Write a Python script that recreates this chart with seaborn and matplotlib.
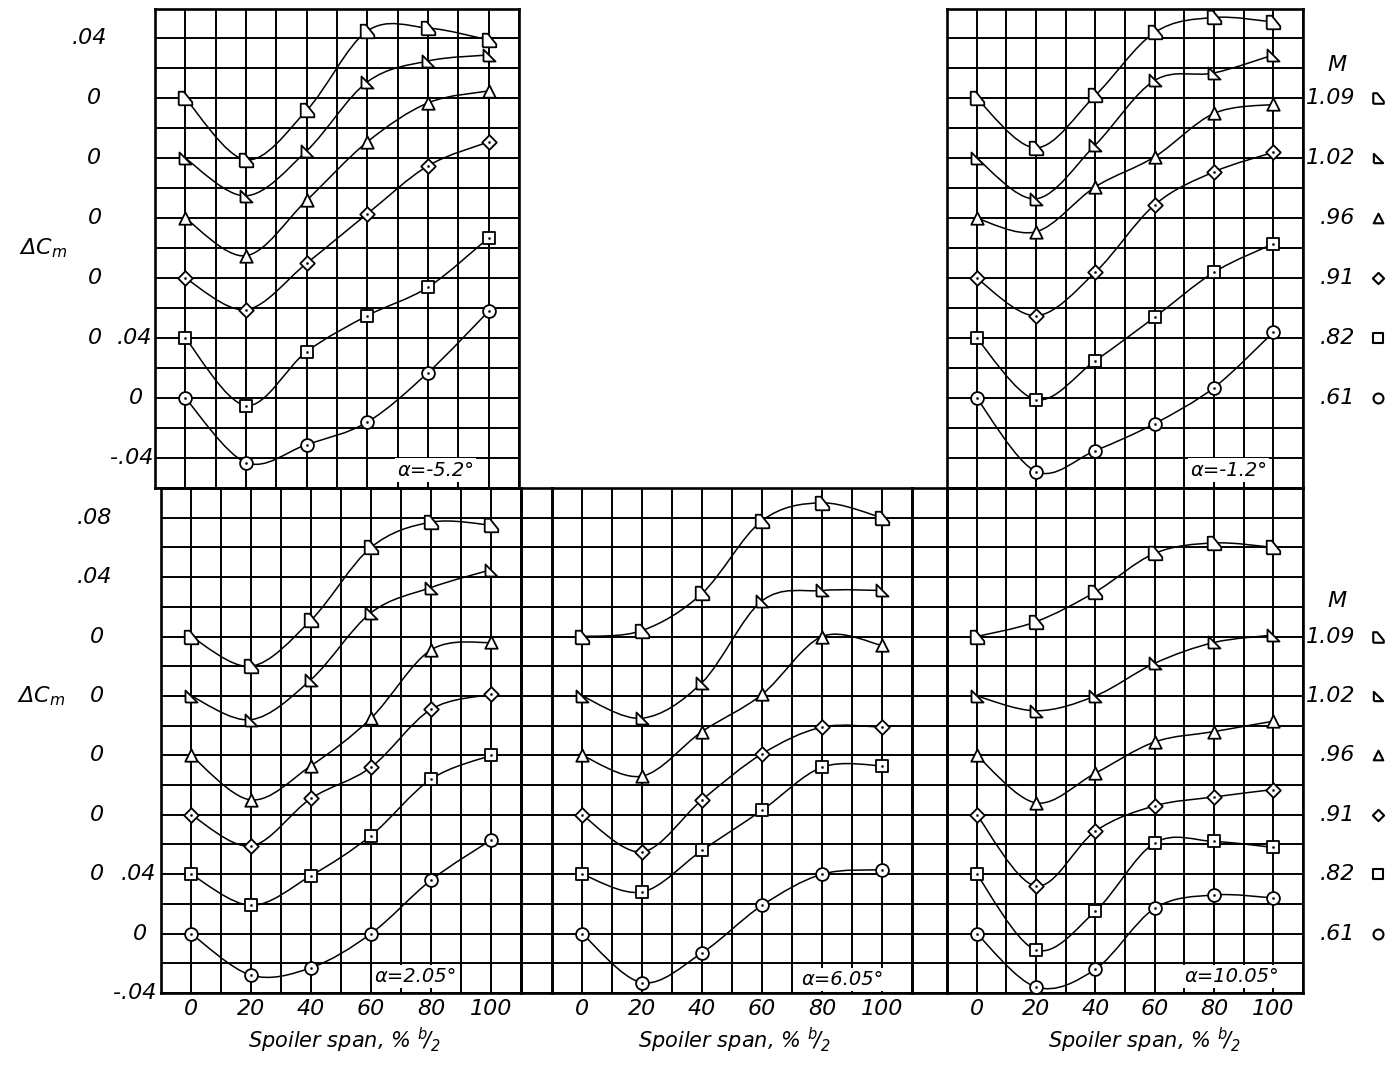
import numpy as np
import pandas as pd
import seaborn as sns
import matplotlib.pyplot as plt
from matplotlib.path import Path
from matplotlib.patches import PathPatch

# spoiler span stations, % b/2
span = [0, 20, 40, 60, 80, 100]
mach = ["1.09", "1.02", ".96", ".91", ".82", ".61"]
alpha_labels = ["α=-5.2°", "α=-1.2°", "α=2.05°", "α=6.05°", "α=10.05°"]

# delta Cm, one row per Mach number (order as in mach)
dcm_a_m52 = [
    [0.0, -0.041, -0.008, 0.045, 0.047, 0.039],
    [0.0, -0.025, 0.005, 0.051, 0.065, 0.069],
    [0.0, -0.025, 0.012, 0.051, 0.077, 0.085],
    [0.0, -0.021, 0.010, 0.043, 0.075, 0.091],
    [0.0, -0.045, -0.009, 0.015, 0.034, 0.067],
    [0.0, -0.043, -0.031, -0.016, 0.017, 0.058],
]
dcm_a_m12 = [
    [0.0, -0.033, 0.002, 0.044, 0.054, 0.051],
    [0.0, -0.027, 0.009, 0.052, 0.057, 0.069],
    [0.0, -0.009, 0.021, 0.041, 0.070, 0.076],
    [0.0, -0.025, 0.004, 0.049, 0.071, 0.084],
    [0.0, -0.041, -0.015, 0.014, 0.044, 0.063],
    [0.0, -0.049, -0.035, -0.017, 0.007, 0.044],
]
dcm_a_205 = [
    [0.0, -0.020, 0.011, 0.060, 0.077, 0.075],
    [0.0, -0.016, 0.011, 0.056, 0.073, 0.085],
    [0.0, -0.030, -0.007, 0.025, 0.071, 0.076],
    [0.0, -0.021, 0.011, 0.032, 0.071, 0.081],
    [0.0, -0.021, -0.001, 0.026, 0.064, 0.080],
    [0.0, -0.028, -0.023, 0.0, 0.036, 0.063],
]
dcm_a_605 = [
    [0.0, 0.004, 0.029, 0.078, 0.090, 0.080],
    [0.0, -0.015, 0.009, 0.064, 0.071, 0.071],
    [0.0, -0.014, 0.016, 0.041, 0.080, 0.074],
    [0.0, -0.025, 0.010, 0.041, 0.059, 0.059],
    [0.0, -0.012, 0.016, 0.043, 0.072, 0.073],
    [0.0, -0.033, -0.013, 0.019, 0.040, 0.043],
]
dcm_a_1005 = [
    [0.0, 0.010, 0.030, 0.056, 0.063, 0.060],
    [0.0, -0.010, 0.0, 0.022, 0.036, 0.041],
    [0.0, -0.032, -0.012, 0.009, 0.016, 0.023],
    [0.0, -0.048, -0.011, 0.006, 0.012, 0.017],
    [0.0, -0.051, -0.025, 0.021, 0.022, 0.018],
    [0.0, -0.036, -0.024, 0.017, 0.026, 0.024],
]

W, H = 1394, 1066
sns.set_theme(style="white")
plt.rcParams['font.family'] = ['DejaVu Sans']
plt.rcParams['font.style'] = 'italic'
plt.rcParams['mathtext.default'] = 'it'
plt.rcParams['text.color'] = 'black'
plt.rcParams['xtick.color'] = 'black'
plt.rcParams['ytick.color'] = 'black'
plt.rcParams['axes.labelcolor'] = 'black'

fig = plt.figure(figsize=(W / 100, H / 100), dpi=100, facecolor='white')


def box(x0, x1, y0, y1):
    # pixel box -> figure fraction
    return [x0 / W, 1 - y1 / H, (x1 - x0) / W, (y1 - y0) / H]


# curves are stacked 0.04 apart, .61 sits at zero
offsets = {m: (5 - i) * 0.04 for i, m in enumerate(mach)}

flag_tri = [(-1, -1), (1, -1), (1, -0.55), (-0.25, 1), (-1, 1), (-1, -1)]
right_tri = [(-1, -1), (1, -1), (-1, 1), (-1, -1)]
markers = {"1.09": flag_tri, "1.02": right_tri, ".96": "^", ".91": "D", ".82": "s", ".61": "o"}
msize = {"1.09": 95, "1.02": 75, ".96": 80, ".91": 55, ".82": 75, ".61": 85}


def faired(ax, xs, ys):
    # smooth curve through the points, drawn as bezier segments
    p = np.column_stack([xs, ys])
    ext = np.vstack([p[0], p, p[-1]])
    verts = [p[0]]
    codes = [Path.MOVETO]
    for i in range(len(p) - 1):
        c1 = ext[i + 1] + (ext[i + 2] - ext[i]) / 6
        c2 = ext[i + 2] - (ext[i + 3] - ext[i + 1]) / 6
        verts += [c1, c2, p[i + 1]]
        codes += [Path.CURVE4] * 3
    ax.add_patch(PathPatch(Path(verts, codes), fill=False, lw=1.1, ec='black', zorder=3))


def grid_axes(rect, ylo, yhi, xlo=-10, xhi=110, vgrid=True):
    ax = fig.add_axes(rect)
    ax.set_facecolor('none')
    ax.set_xlim(xlo, xhi)
    ax.set_ylim(ylo, yhi)
    if vgrid:
        ax.set_xticks([0, 20, 40, 60, 80, 100])
        ax.set_xticks(np.arange(-10, 111, 20), minor=True)
    else:
        ax.set_xticks([])
    ax.set_yticks(np.round(np.arange(ylo, yhi + 0.001, 0.02), 3))
    ax.grid(True, which='both', color='black', lw=1.4)
    ax.tick_params(which='both', length=0, labelleft=False, labelbottom=False)
    for s in ax.spines.values():
        s.set_linewidth(1.9)
        s.set_color('black')
    return ax


def draw_panel(ax, data, label, lx, ly):
    for i, m in enumerate(mach):
        df = pd.DataFrame({"span": span, "dcm": data[i]})
        df["y"] = df["dcm"] + offsets[m]
        faired(ax, df["span"], df["y"])
        sns.scatterplot(data=df, x="span", y="y", marker=markers[m], s=msize[m],
                        color='white', edgecolor='black', linewidth=1.3,
                        zorder=4, ax=ax, clip_on=False)
        if m in (".91", ".82", ".61"):
            sns.scatterplot(data=df, x="span", y="y", marker='o', s=3, color='black',
                            edgecolor='black', zorder=5, ax=ax, clip_on=False)
    ax.set_xlabel("")
    ax.set_ylabel("")
    ax.text(lx, ly, label, ha='center', va='center', fontsize=14, zorder=6,
            bbox=dict(fc='white', ec='none', pad=1.5))


def legend_block(ax, m_y):
    ax.annotate("M", (1337 / W, m_y), xycoords=('figure fraction', 'data'),
                ha='center', va='center', fontsize=16, annotation_clip=False)
    trans = fig.transFigure + ax.transData.inverted()
    xd = trans.transform((1378 / W, 0.5))[0]
    for m in mach:
        ax.annotate(m, (1355 / W, offsets[m]), xycoords=('figure fraction', 'data'),
                    ha='right', va='center', fontsize=16, annotation_clip=False)
        ax.scatter([xd], [offsets[m]], marker=markers[m], s=msize[m] * 0.6,
                   facecolor='white', edgecolor='black', linewidth=1.5, clip_on=False, zorder=5)


# top row
ax_tl = grid_axes(box(155, 519, 8.5, 488), -0.06, 0.26)
ax_tr = grid_axes(box(947, 1303, 8.5, 488), -0.06, 0.26)
# bottom row, with the two gridded gaps between panels
ax_bl = grid_axes(box(161, 521, 488, 993), -0.04, 0.30)
gap1 = grid_axes(box(521, 552, 488, 993), -0.04, 0.30, 0, 1, vgrid=False)
ax_bm = grid_axes(box(552, 912, 488, 993), -0.04, 0.30)
gap2 = grid_axes(box(912, 947, 488, 993), -0.04, 0.30, 0, 1, vgrid=False)
ax_br = grid_axes(box(947, 1303, 488, 993), -0.04, 0.30)

draw_panel(ax_tl, dcm_a_m52, alpha_labels[0], 82.5, -0.048)
draw_panel(ax_tr, dcm_a_m12, alpha_labels[1], 85, -0.048)
draw_panel(ax_bl, dcm_a_205, alpha_labels[2], 75, -0.029)
draw_panel(ax_bm, dcm_a_605, alpha_labels[3], 87, -0.031)
draw_panel(ax_br, dcm_a_1005, alpha_labels[4], 86, -0.029)

for ax, xc in ((ax_bl, 345), (ax_bm, 735), (ax_br, 1145)):
    ax.tick_params(axis='x', labelbottom=True, labelsize=16, pad=4)
    fig.text(xc / W, 1 - 1040 / H, r"Spoiler span, % $^b\!/_2$", ha='center', va='center',
             fontsize=15)

# y labels on the left of both rows
tl_labels = [(107, 0.24, ".04"), (101, 0.20, "0"), (101, 0.16, "0"), (102, 0.12, "0"),
             (102, 0.08, "0"), (102, 0.04, "0"), (152, 0.04, ".04"), (143, 0.0, "0"),
             (153, -0.04, "-.04")]
bl_labels = [(112, 0.28, ".08"), (112, 0.24, ".04"), (104, 0.20, "0"), (104, 0.16, "0"),
             (104, 0.12, "0"), (104, 0.08, "0"), (104, 0.04, "0"), (156, 0.04, ".04"),
             (147, 0.0, "0"), (156, -0.04, "-.04")]
for xr, yv, t in tl_labels:
    ax_tl.annotate(t, (xr / W, yv), xycoords=('figure fraction', 'data'),
                   ha='right', va='center', fontsize=16, annotation_clip=False)
for xr, yv, t in bl_labels:
    ax_bl.annotate(t, (xr / W, yv), xycoords=('figure fraction', 'data'),
                   ha='right', va='center', fontsize=16, annotation_clip=False)
ax_tl.annotate(r'$\Delta C_m$', (43 / W, 0.10), xycoords=('figure fraction', 'data'),
               ha='center', va='center', fontsize=16, annotation_clip=False)
ax_bl.annotate(r'$\Delta C_m$', (41 / W, 0.16), xycoords=('figure fraction', 'data'),
               ha='center', va='center', fontsize=16, annotation_clip=False)

legend_block(ax_tr, 0.222)
legend_block(ax_br, 0.224)

fig.savefig("out.png", dpi=100, facecolor='white')
